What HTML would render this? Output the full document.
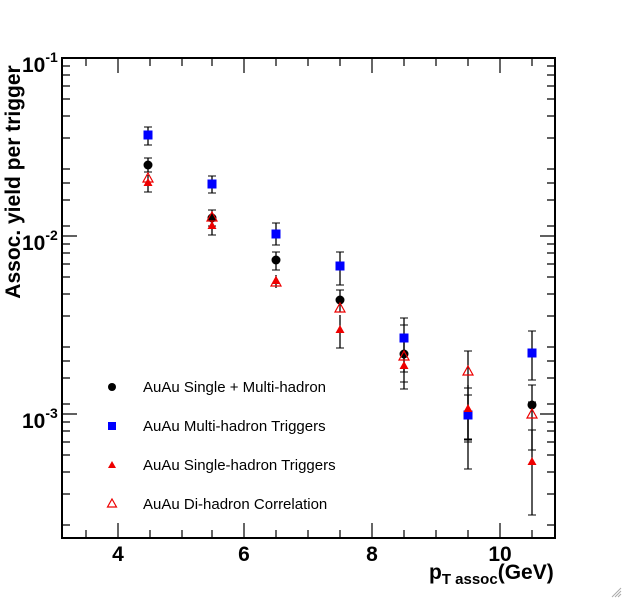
<!DOCTYPE html>
<html><head><style>body{margin:0;background:#fff}svg{display:block}</style></head><body>
<svg width="623" height="599" xmlns="http://www.w3.org/2000/svg" font-family="Liberation Sans, sans-serif">
<rect width="623" height="599" fill="#fff"/>
<g stroke="#000" stroke-width="1.3">
<!-- error bars -->
<line x1="148" y1="158" x2="148" y2="172"/><line x1="212" y1="210" x2="212" y2="226"/><line x1="276" y1="252" x2="276" y2="270"/><line x1="340" y1="290" x2="340" y2="312"/><line x1="404" y1="340" x2="404" y2="372"/><line x1="532" y1="385" x2="532" y2="450"/>
<line x1="148" y1="127" x2="148" y2="145"/><line x1="212" y1="176" x2="212" y2="193"/><line x1="276" y1="223" x2="276" y2="245"/><line x1="340" y1="252" x2="340" y2="285"/><line x1="404" y1="318" x2="404" y2="360"/><line x1="468" y1="395" x2="468" y2="440"/><line x1="532" y1="331" x2="532" y2="380"/>
<line x1="148" y1="175" x2="148" y2="192"/><line x1="212" y1="218" x2="212" y2="235"/><line x1="276" y1="275" x2="276" y2="288"/><line x1="340" y1="315" x2="340" y2="348"/><line x1="404" y1="350" x2="404" y2="389"/><line x1="468" y1="385" x2="468" y2="469"/><line x1="532" y1="430" x2="532" y2="515"/>
<line x1="468" y1="351" x2="468" y2="439"/>
</g>
<g stroke="#000" stroke-width="1">
<path d="M144 158h8M144 172h8M208 210h8M208 226h8M272 252h8M272 270h8M336 290h8M336 312h8M400 340h8M400 372h8M528 385h8M528 450h8M144 127h8M144 145h8M208 176h8M208 193h8M272 223h8M272 245h8M336 252h8M336 285h8M400 318h8M400 360h8M464 395h8M464 440h8M528 331h8M528 380h8M144 192h8M208 235h8M336 348h8M400 389h8M464 469h8M528 515h8M464 351h8M464 439h8M400 325h8M400 382h8M464 388h8M464 442h8M528 430h8M528 402h8"/>
</g>
<!-- markers -->
<g fill="#00f">
<rect x="143.5" y="130.5" width="9" height="9"/><rect x="207.5" y="179.5" width="9" height="9"/><rect x="271.5" y="229.5" width="9" height="9"/><rect x="335.5" y="261.5" width="9" height="9"/><rect x="399.5" y="333.5" width="9" height="9"/><rect x="463.5" y="410.5" width="9" height="9"/><rect x="527.5" y="348.5" width="9" height="9"/>
</g>
<g fill="#000">
<circle cx="148" cy="165" r="4.5"/><circle cx="212" cy="218" r="4.5"/><circle cx="276" cy="260" r="4.5"/><circle cx="340" cy="300" r="4.5"/><circle cx="404" cy="354" r="4.5"/><circle cx="532" cy="405" r="4.5"/>
</g>
<g fill="#e00">
<path d="M148 178l4.5 8h-9zM212 221l4.5 8h-9zM276 276l4.5 8h-9zM340 325l4.5 8h-9zM404 361l4.5 8h-9zM468 404l4.5 8h-9zM532 457l4.5 8h-9z"/>
</g>
<g fill="none" stroke="#e00" stroke-width="1.2">
<path d="M148 173l5 9h-10zM212 212l5 9h-10zM276 277l5 9h-10zM340 303l5 9h-10zM404 351l5 9h-10zM468 366l5 9h-10zM532 409l5 9h-10z"/>
</g>
<!-- frame -->
<rect x="62" y="58" width="493" height="480" fill="none" stroke="#000" stroke-width="2"/>
<g stroke="#000" stroke-width="1.2">
<path d="M118 538v-15M244 538v-15M372 538v-15M500 538v-15M118 58v15M244 58v15M372 58v15M500 58v15
M86 538v-8M150 538v-8M182 538v-8M212 538v-8M276 538v-8M308 538v-8M340 538v-8M404 538v-8M436 538v-8M468 538v-8M532 538v-8
M86 58v8M150 58v8M182 58v8M212 58v8M276 58v8M308 58v8M340 58v8M404 58v8M436 58v8M468 58v8M532 58v8
M62 236h15M62 414h15M555 236h-15M555 414h-15
M62 66h8M62 75h8M62 86h8M62 99h8M62 116h8M62 138h8M62 169h8M62 183h8M62 200h8M62 226h8
M62 244h8M62 253h8M62 264h8M62 277h8M62 294h8M62 316h8M62 347h8M62 361h8M62 378h8M62 404h8
M62 422h8M62 431h8M62 442h8M62 455h8M62 472h8M62 494h8M62 525h8
M555 66h-8M555 75h-8M555 86h-8M555 99h-8M555 116h-8M555 138h-8M555 169h-8M555 183h-8M555 200h-8M555 226h-8
M555 244h-8M555 253h-8M555 264h-8M555 277h-8M555 294h-8M555 316h-8M555 347h-8M555 361h-8M555 378h-8M555 404h-8
M555 422h-8M555 431h-8M555 442h-8M555 455h-8M555 472h-8M555 494h-8M555 525h-8"/>
</g>
<!-- labels -->
<g font-weight="bold" font-size="21" fill="#000">
<text x="22" y="72">10<tspan font-size="14" dy="-10">-1</tspan></text>
<text x="22" y="250">10<tspan font-size="14" dy="-10">-2</tspan></text>
<text x="22" y="428">10<tspan font-size="14" dy="-10">-3</tspan></text>
<text x="118" y="561" text-anchor="middle">4</text>
<text x="244" y="561" text-anchor="middle">6</text>
<text x="372" y="561" text-anchor="middle">8</text>
<text x="500" y="561" text-anchor="middle">10</text>
<text x="429" y="579">p<tspan font-size="15" dy="5">T assoc</tspan><tspan dy="-5">(GeV)</tspan></text>
<text transform="translate(20,182) rotate(-90)" text-anchor="middle">Assoc. yield per trigger</text>
</g>
<!-- legend -->
<circle cx="112" cy="387" r="4" fill="#000"/>
<rect x="108" y="422" width="8" height="8" fill="#00f"/>
<path d="M112 461l4 7h-8z" fill="#e00"/>
<path d="M112 499l4.5 8h-9z" fill="none" stroke="#e00" stroke-width="1.2"/>
<g font-size="15" fill="#000">
<text x="143" y="392">AuAu Single + Multi-hadron</text>
<text x="143" y="431">AuAu Multi-hadron Triggers</text>
<text x="143" y="470">AuAu Single-hadron Triggers</text>
<text x="143" y="509">AuAu Di-hadron Correlation</text>
</g>
<path d="M612 597l9-9M615 597l6-6M618 597l3-3" stroke="#aaa" stroke-width="1"/>
</svg>
</body></html>
